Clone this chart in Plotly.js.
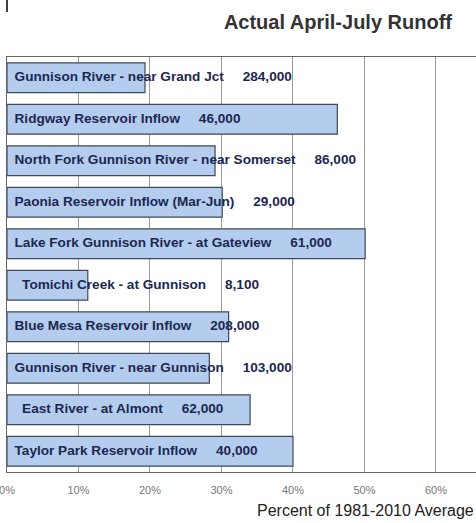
<!DOCTYPE html>
<html>
<head>
<meta charset="utf-8">
<script src="https://cdn.plot.ly/plotly-3.0.1.min.js"></script>
<style>html,body{margin:0;padding:0;background:#fff;}#chart{width:476px;height:523px;}</style>
</head>
<body>
<div id="chart"></div>
<script>
var stations = [
  "Gunnison River - near Grand Jct",
  "Ridgway Reservoir Inflow",
  "North Fork Gunnison River - near Somerset",
  "Paonia Reservoir Inflow (Mar-Jun)",
  "Lake Fork Gunnison River - at Gateview",
  "\u00a0\u00a0Tomichi Creek - at Gunnison",
  "Blue Mesa Reservoir Inflow",
  "Gunnison River - near Gunnison",
  "\u00a0\u00a0East River - at Almont",
  "Taylor Park Reservoir Inflow"
];
var volumes = ["284,000", "46,000", "86,000", "29,000", "61,000", "8,100", "208,000", "103,000", "62,000", "40,000"];
var percentOfAverage = [19.3, 46.2, 29.1, 30.1, 50.1, 11.3, 31.0, 28.3, 34.0, 40.0];
var tickValues = [0, 10, 20, 30, 40, 50, 60];
var tickLabels = ["0%", "10%", "20%", "30%", "40%", "50%", "60%"];

var ids = stations.map(function (s, i) { return "r" + i; });
var indent = "\u00a0\u00a0";
var gap = "\u00a0\u00a0\u00a0\u00a0\u00a0";
var rowText = stations.map(function (s, i) { return indent + s + gap + volumes[i]; });

var bars = {
  type: "bar", orientation: "h",
  x: percentOfAverage, y: ids,
  width: 0.72,
  marker: { color: "#b4cdee", line: { color: "#3f4858", width: 1.2 } },
  hoverinfo: "skip", showlegend: false
};
var labels = {
  type: "scatter", mode: "text",
  x: ids.map(function () { return 0; }), y: ids,
  text: rowText, textposition: "middle right",
  textfont: { family: "Liberation Sans, Arial, sans-serif", size: 13.6, color: "#1c2750", weight: "bold" },
  hoverinfo: "skip", showlegend: false, cliponaxis: false
};

var layout = {
  width: 476, height: 523,
  margin: { l: 7, r: 0, t: 57, b: 51 },
  paper_bgcolor: "#fff", plot_bgcolor: "#fff",
  title: { text: "<b>Actual April-July Runoff</b>", font: { family: "Liberation Sans, Arial, sans-serif", size: 20, color: "#333" },
           xref: "container", x: 0.71, xanchor: "center", yref: "container", y: 0.958, yanchor: "middle" },
  xaxis: {
    range: [0, 65.6], tickvals: tickValues, ticktext: tickLabels,
    showgrid: true, gridcolor: "#9a9a9a", gridwidth: 1,
    zeroline: false, showline: true, linecolor: "#666", linewidth: 1, mirror: true,
    ticks: "", tickfont: { family: "Liberation Sans, Arial, sans-serif", size: 11, color: "#777" },
    ticklabelstandoff: 8, ticklabeloverflow: "allow", fixedrange: true
  },
  yaxis: {
    type: "category", autorange: "reversed",
    showticklabels: false, showgrid: false, zeroline: false,
    showline: true, linecolor: "#666", linewidth: 1, ticks: "", fixedrange: true
  },
  annotations: [{
    text: "Percent of 1981-2010 Average", xref: "paper", yref: "paper",
    x: 1.0, y: 0, xanchor: "right", yanchor: "middle", yshift: -38, showarrow: false,
    font: { family: "Liberation Sans, Arial, sans-serif", size: 16, color: "#222" }
  }],
  shapes: [{
    type: "line", xref: "paper", yref: "paper", x0: 0, x1: 0, y0: 1 + 45 / 415, y1: 1 + 57 / 415,
    line: { color: "#000", width: 1.5 }
  }]
};

Plotly.newPlot("chart", [bars, labels], layout, { displayModeBar: false, staticPlot: true });
</script>
</body>
</html>
